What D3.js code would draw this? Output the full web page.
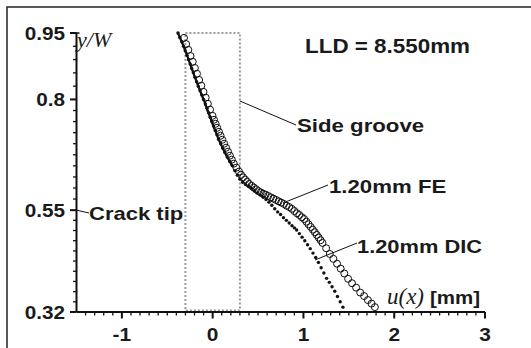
<!DOCTYPE html>
<html>
<head>
<meta charset="utf-8">
<script src="https://cdn.jsdelivr.net/npm/d3@7"></script>
<style>
  html, body { margin: 0; padding: 0; background: #fff; }
  svg { display: block; }
  .lbl { font-family: "Liberation Sans", Arial, sans-serif; font-weight: bold; fill: #1a1a1a; }
  .ital { font-family: "Liberation Serif", "Times New Roman", serif; font-style: italic; fill: #1a1a1a; }
</style>
</head>
<body>
<script>
// Crack opening profile: finite element prediction vs. DIC measurement
const feU = [-0.316, -0.292, -0.268, -0.244, -0.220, -0.196, -0.173, -0.149, -0.125, -0.101, -0.077, -0.053, -0.029,
  -0.002, 0.015, 0.032, 0.050, 0.069, 0.087, 0.106, 0.127, 0.148, 0.169, 0.190, 0.211, 0.233, 0.261, 0.290,
  0.312, 0.335, 0.358, 0.380, 0.403, 0.428, 0.453, 0.478, 0.503, 0.530, 0.557, 0.584, 0.611, 0.640, 0.669, 0.698,
  0.727, 0.756, 0.785, 0.814, 0.843, 0.872, 0.900, 0.928, 0.955, 0.982, 1.008, 1.032, 1.056, 1.080, 1.104, 1.126,
  1.147, 1.168, 1.189, 1.210, 1.250, 1.290, 1.330, 1.370, 1.410, 1.450, 1.492, 1.535, 1.580, 1.625, 1.668, 1.710,
  1.750, 1.787];
const feY = [0.939, 0.925, 0.912, 0.898, 0.885, 0.871, 0.858, 0.844, 0.831, 0.817, 0.804, 0.790, 0.777,
  0.763, 0.754, 0.745, 0.736, 0.727, 0.718, 0.709, 0.700, 0.691, 0.682, 0.673, 0.664, 0.655, 0.646, 0.637,
  0.630, 0.624, 0.619, 0.614, 0.609, 0.605, 0.601, 0.597, 0.593, 0.590, 0.587, 0.585, 0.582, 0.579, 0.576, 0.573,
  0.570, 0.567, 0.564, 0.560, 0.557, 0.553, 0.548, 0.543, 0.539, 0.534, 0.530, 0.524, 0.518, 0.512, 0.506, 0.500,
  0.494, 0.488, 0.482, 0.476, 0.464, 0.451, 0.440, 0.429, 0.418, 0.407, 0.395, 0.385, 0.375, 0.364, 0.356, 0.347,
  0.339, 0.331];

const dicU = [-0.382, -0.362, -0.341, -0.321, -0.302, -0.283, -0.265, -0.248, -0.231, -0.213, -0.195, -0.177, -0.159,
  -0.139, -0.120, -0.100, -0.081, -0.063, -0.045, -0.027, -0.010, 0.009, 0.028, 0.047, 0.065, 0.088, 0.111, 0.134,
  0.160, 0.188, 0.218, 0.245, 0.272, 0.300, 0.330, 0.362, 0.395, 0.428, 0.460, 0.492, 0.524, 0.556, 0.588, 0.620,
  0.652, 0.684, 0.716, 0.748, 0.780, 0.812, 0.843, 0.874, 0.900, 0.925, 0.955, 0.985, 1.015, 1.045, 1.075, 1.105,
  1.135, 1.165, 1.195, 1.225, 1.255, 1.285, 1.315, 1.345, 1.375, 1.405, 1.435];
const dicY = [0.950, 0.940, 0.930, 0.920, 0.910, 0.900, 0.890, 0.880, 0.870, 0.860, 0.850, 0.840, 0.830,
  0.820, 0.810, 0.800, 0.790, 0.780, 0.770, 0.760, 0.750, 0.740, 0.730, 0.720, 0.710, 0.700, 0.690, 0.680,
  0.670, 0.660, 0.650, 0.639, 0.629, 0.620, 0.613, 0.608, 0.604, 0.599, 0.594, 0.589, 0.584, 0.579, 0.574, 0.568,
  0.561, 0.553, 0.546, 0.540, 0.533, 0.527, 0.521, 0.515, 0.510, 0.505, 0.497, 0.489, 0.481, 0.472, 0.463, 0.453,
  0.443, 0.432, 0.420, 0.408, 0.396, 0.387, 0.377, 0.367, 0.355, 0.343, 0.331];

const xMajor = [-1, 0, 1, 2, 3];
const xTickLabels = ["-1", "0", "1", "2", "3"];
const yMajor = [0.32, 0.55, 0.8, 0.95];
const yTickLabels = ["0.32", "0.55", "0.8", "0.95"];
const grooveU = [-0.3, 0.3];

const W = 531, H = 348;
const svg = d3.select("body").append("svg").attr("width", W).attr("height", H);

const x = d3.scaleLinear().domain([-1.5, 3]).range([76.5, 485]);
const y = d3.scaleLinear().domain([0.32, 0.95]).range([312, 33]);

// outer frame (open on the right and bottom edges of the canvas)
svg.append("path")
  .attr("d", `M7,${H + 2} L7,7 L${W + 2},7`)
  .attr("fill", "none").attr("stroke", "#222").attr("stroke-width", 1.5);

// side groove region
svg.append("rect")
  .attr("x", x(grooveU[0])).attr("y", y(0.95))
  .attr("width", x(grooveU[1]) - x(grooveU[0]))
  .attr("height", y(0.32) - y(0.95) - 1.5)
  .attr("fill", "none").attr("stroke", "#9a9a9a").attr("stroke-width", 2)
  .attr("stroke-dasharray", "2,2");

// axes
const axisG = svg.append("g").attr("stroke", "#111").attr("fill", "none");
axisG.append("line").attr("x1", x(-1.5)).attr("x2", x(3)).attr("y1", y(0.32)).attr("y2", y(0.32)).attr("stroke-width", 2);
axisG.append("line").attr("x1", x(-1.5)).attr("x2", x(-1.5)).attr("y1", y(0.32)).attr("y2", y(0.95)).attr("stroke-width", 2);
axisG.append("line").attr("x1", x(-1.5) - 1).attr("x2", x(-1.5) + 3).attr("y1", y(0.95)).attr("y2", y(0.95)).attr("stroke-width", 1.5);

// x ticks: minor every 0.1, major at integers
const xMinor = d3.range(-14, 31).map(i => i / 10).filter(v => !xMajor.some(m => Math.abs(m - v) < 1e-6));
xMinor.forEach(v => axisG.append("line").attr("x1", x(v)).attr("x2", x(v))
  .attr("y1", y(0.32)).attr("y2", y(0.32) + 3.5).attr("stroke-width", 1.3));
xMajor.forEach(v => axisG.append("line").attr("x1", x(v)).attr("x2", x(v))
  .attr("y1", y(0.32)).attr("y2", y(0.32) + 6.5).attr("stroke-width", 2));

// y ticks: minor subdivisions between the labelled values
const ySub = [10, 10, 5];
const yMinor = [];
for (let i = 0; i < yMajor.length - 1; i++) {
  const a = yMajor[i], b = yMajor[i + 1];
  for (let k = 1; k < ySub[i]; k++) yMinor.push(a + (b - a) * k / ySub[i]);
}
yMinor.forEach(v => axisG.append("line").attr("x1", x(-1.5) - 3.5).attr("x2", x(-1.5))
  .attr("y1", y(v)).attr("y2", y(v)).attr("stroke-width", 1.3));
yMajor.forEach(v => axisG.append("line").attr("x1", x(-1.5) - 6.5).attr("x2", x(-1.5))
  .attr("y1", y(v)).attr("y2", y(v)).attr("stroke-width", 2));

// bold labels, drawn slightly wide
function wideText(px, py, txt, anchor, size, sx) {
  const g = svg.append("g").attr("transform", `translate(${px},${py}) scale(${sx},1)`);
  return g.append("text").attr("class", "lbl").attr("text-anchor", anchor)
    .attr("font-size", size).text(txt);
}
xMajor.forEach((v, i) => wideText(x(v), 341, xTickLabels[i], "middle", 18.5, 1.13));
yMajor.forEach((v, i) => wideText(65, y(v) + 6.5, yTickLabels[i], "end", 18.5, 1.12));

// axis titles
svg.append("text").attr("class", "ital").attr("x", 77).attr("y", 47).attr("font-size", 22).text("y/W");
svg.append("text").attr("class", "ital").attr("x", 387).attr("y", 304).attr("font-size", 23).text("u(x)");
wideText(430, 304, "[mm]", "start", 19, 1.08);

// DIC: the dense upper part reads as a continuous line
const dicPts = dicU.map((u, i) => [u, dicY[i]]);
svg.append("path")
  .datum(dicPts.filter(p => p[1] >= 0.65))
  .attr("fill", "none").attr("stroke", "#111").attr("stroke-width", 2.2)
  .attr("d", d3.line().x(p => x(p[0])).y(p => y(p[1])));
svg.append("g").selectAll("circle").data(dicPts).join("circle")
  .attr("cx", p => x(p[0])).attr("cy", p => y(p[1])).attr("r", 1.7).attr("fill", "#111");

// FE: open circles
svg.append("g").selectAll("circle").data(feU.map((u, i) => [u, feY[i]])).join("circle")
  .attr("cx", p => x(p[0])).attr("cy", p => y(p[1])).attr("r", 3.5)
  .attr("fill", "none").attr("stroke", "#111").attr("stroke-width", 1);

// annotations with leader lines
const lead = svg.append("g").attr("stroke", "#111").attr("stroke-width", 1);
lead.append("line").attr("x1", x(0.3)).attr("y1", 101).attr("x2", 296).attr("y2", 125);
lead.append("line").attr("x1", 283).attr("y1", 203).attr("x2", 328).attr("y2", 185);
lead.append("line").attr("x1", 315).attr("y1", 260).attr("x2", 357).attr("y2", 243);
lead.append("line").attr("x1", x(-1.5)).attr("y1", y(0.55)).attr("x2", 89).attr("y2", 213);

wideText(297, 132, "Side groove", "start", 19, 1.17);
wideText(329, 193, "1.20mm FE", "start", 19, 1.17);
wideText(357, 253, "1.20mm DIC", "start", 19, 1.15);
wideText(89, 220, "Crack tip", "start", 19, 1.16);
wideText(305, 53, "LLD = 8.550mm", "start", 19.5, 1.15);
</script>
</body>
</html>
